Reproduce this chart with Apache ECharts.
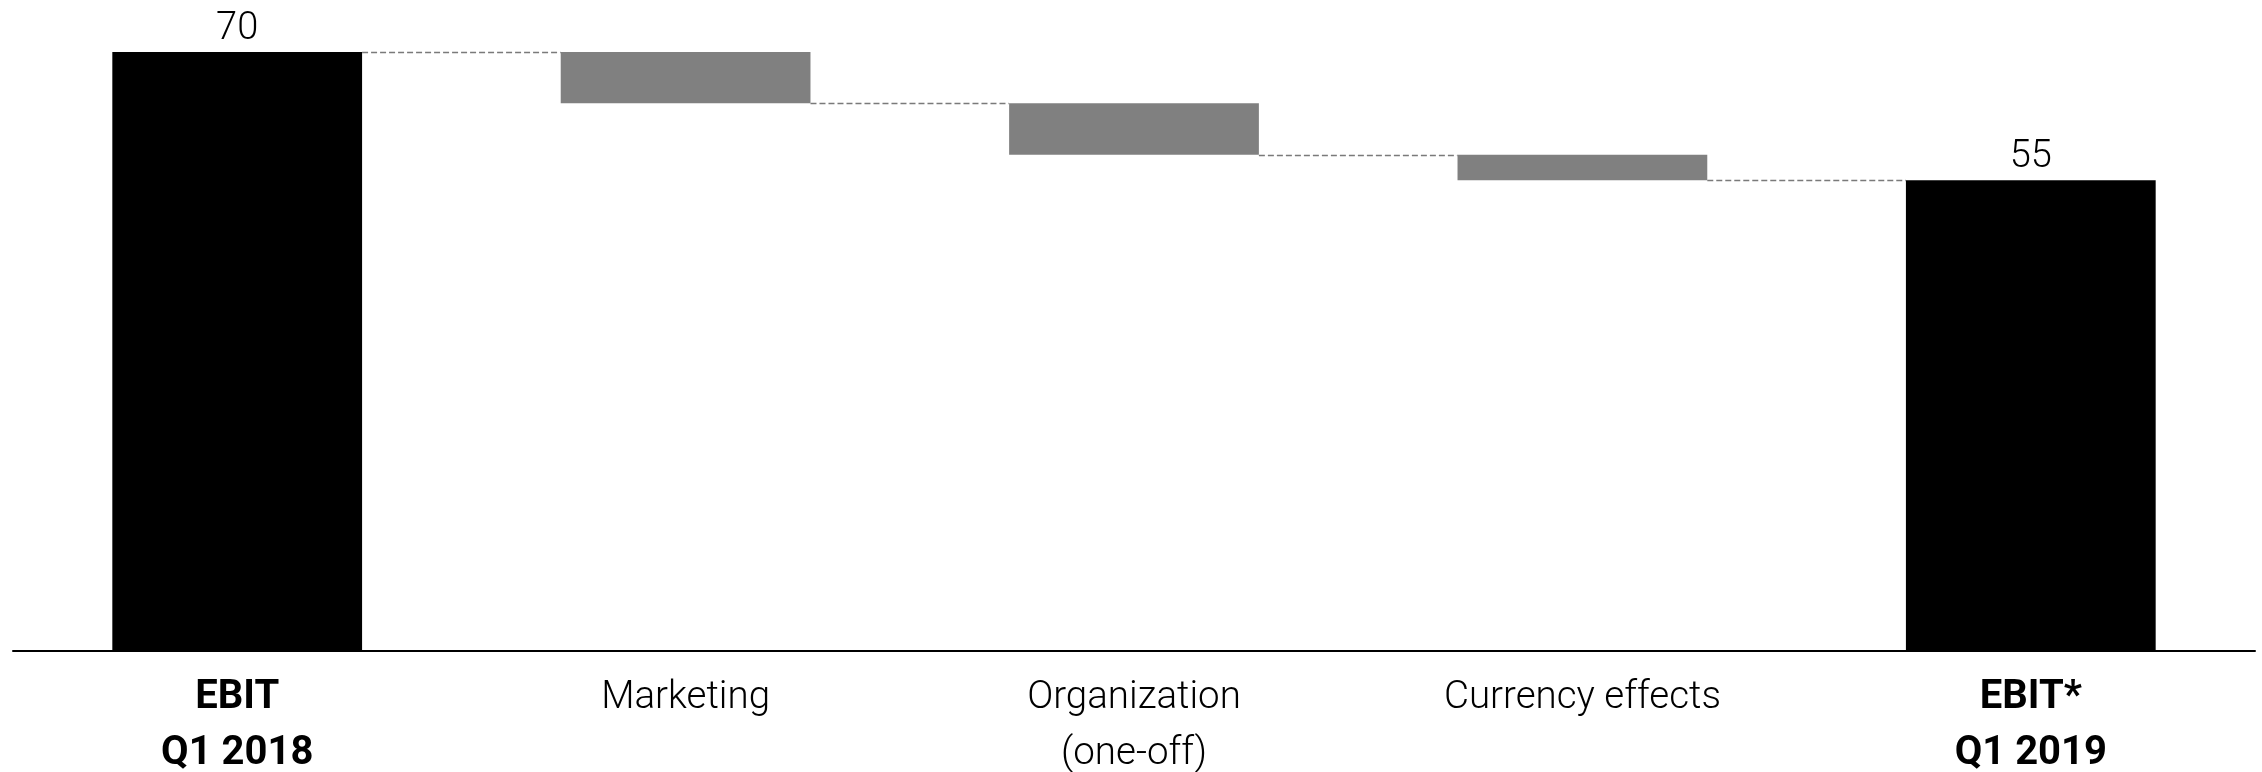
<!DOCTYPE html>
<html>
<head>
<meta charset="utf-8">
<script src="https://cdn.jsdelivr.net/npm/echarts@6/dist/echarts.min.js"></script>
<style>
  html, body { margin: 0; padding: 0; background: #ffffff; }
  #chart { width: 2262px; height: 772px; }
</style>
</head>
<body>
<div id="chart"></div>
<script>
// EBIT bridge Q1 2018 -> Q1 2019
const categories = ['EBIT\nQ1 2018', 'Marketing', 'Organization\n(one-off)', 'Currency effects', 'EBIT*\nQ1 2019'];
const kinds = ['total', 'delta', 'delta', 'delta', 'total'];
const values = [70, -6, -6, -3, 55];

const BAR_RATIO = 0.557;
const FONT = 'Roboto, "Liberation Sans", sans-serif';

// Totals stand on the axis; deltas float between the running levels
const bases = [];
const heights = [];
const levels = [];
let level = 0;
values.forEach((v, i) => {
  if (kinds[i] === 'total') {
    bases.push(0);
    heights.push(v);
    level = v;
  } else {
    const next = level + v;
    bases.push(Math.min(level, next));
    heights.push(Math.abs(v));
    level = next;
  }
  levels.push(level);
});

// Connector segments: from the right edge of bar i to the left edge of bar i+1
const connectors = levels.slice(0, -1).map((lv, i) => [i, lv]);

const chart = echarts.init(document.getElementById('chart'), null, { renderer: 'canvas' });

chart.setOption({
  animation: false,
  backgroundColor: '#ffffff',
  grid: { left: 13, right: 7, top: 52, bottom: 121, containLabel: false, outerBoundsMode: 'none' },
  xAxis: {
    type: 'category',
    data: categories,
    axisTick: { show: false },
    axisLine: { show: true, lineStyle: { color: '#000000', width: 2 } },
    axisLabel: {
      interval: 0,
      margin: 19,
      formatter: (val, idx) => {
        const style = kinds[idx] === 'total' ? 'b' : 'n';
        return val.split('\n').map(s => '{' + style + '|' + s + '}').join('\n');
      },
      rich: {
        b: { fontFamily: FONT, fontSize: 40, fontWeight: 'bold', color: '#000000', lineHeight: 56 },
        n: { fontFamily: FONT, fontSize: 38.5, fontWeight: 300, color: '#000000', lineHeight: 56 }
      }
    }
  },
  yAxis: {
    type: 'value',
    min: 0,
    max: 70,
    show: false,
    splitLine: { show: false }
  },
  series: [
    {
      name: 'base',
      type: 'bar',
      stack: 'bridge',
      barWidth: (BAR_RATIO * 100) + '%',
      itemStyle: { color: 'transparent' },
      emphasis: { disabled: true },
      data: bases
    },
    {
      name: 'step',
      type: 'bar',
      stack: 'bridge',
      barWidth: (BAR_RATIO * 100) + '%',
      emphasis: { disabled: true },
      data: heights.map((h, i) => ({
        value: h,
        itemStyle: { color: kinds[i] === 'total' ? '#000000' : '#808080' },
        label: {
          show: kinds[i] === 'total',
          position: 'top',
          distance: 4,
          formatter: () => String(values[i]),
          fontFamily: FONT,
          fontSize: 38,
          fontWeight: 300,
          color: '#000000'
        }
      }))
    },
    {
      name: 'connector',
      type: 'custom',
      silent: true,
      z: 5,
      data: connectors,
      renderItem: (params, api) => {
        const p = api.coord([api.value(0), api.value(1)]);
        const band = api.size([1, 0])[0];
        const half = band * BAR_RATIO / 2;
        const y = Math.round(p[1]) + 0.5;
        return {
          type: 'line',
          shape: { x1: p[0] + half, y1: y, x2: p[0] + band - half, y2: y },
          style: { stroke: '#7a7a7a', lineWidth: 1.5, lineDash: [6, 3] }
        };
      }
    }
  ]
});
</script>
</body>
</html>
